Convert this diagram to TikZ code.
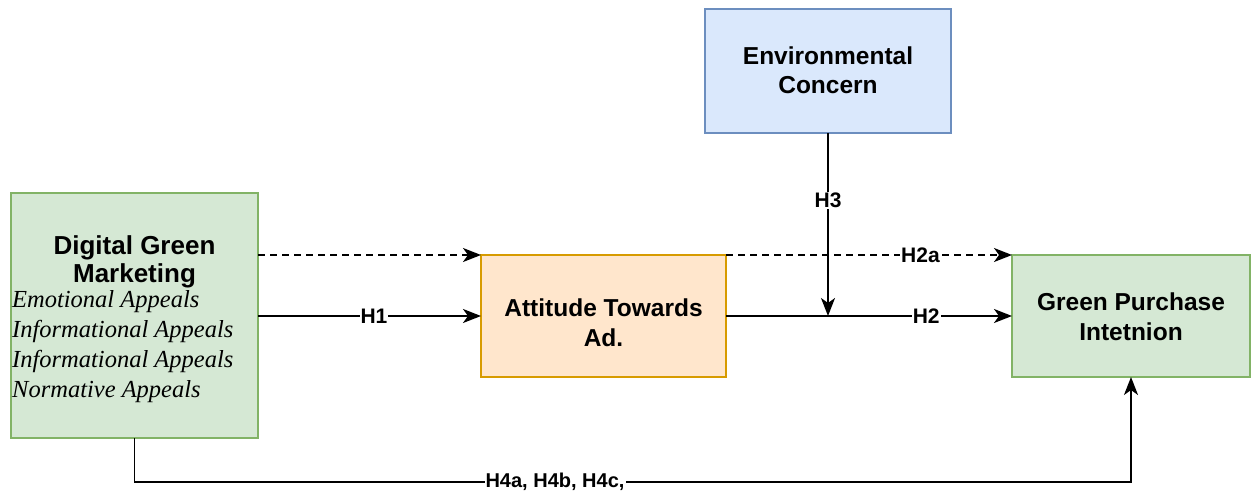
\documentclass[tikz,border=0pt]{standalone}
\usepackage{fontspec}
\setmainfont{Liberation Serif}
\setsansfont{Liberation Sans}
\usetikzlibrary{arrows.meta,calc}
\definecolor{envfill}{HTML}{DAE8FC}\definecolor{envdraw}{HTML}{6C8EBF}
\definecolor{attfill}{HTML}{FFE6CC}\definecolor{attdraw}{HTML}{D79B00}
\definecolor{grnfill}{HTML}{D5E8D4}\definecolor{grndraw}{HTML}{82B366}
\tikzset{
  box/.style={draw, line width=1.5pt, minimum width=#1, inner sep=0pt, outer sep=0pt},
  boxtext/.style={font=\sffamily\bfseries\fontsize{24.5}{29.5}\selectfont, align=center, inner sep=0pt},
  conn/.style={line width=1.8pt, -{Stealth[length=18pt,width=14pt,inset=5pt]}},
  dashconn/.style={conn, dash pattern=on 7pt off 5pt},
  lbl/.style={font=\sffamily\bfseries\fontsize{21}{24}\selectfont, fill=white, inner sep=1pt}
}
\begin{document}
\begin{tikzpicture}[x=1pt,y=1pt]
\useasboundingbox (0,0) rectangle (1252,-494);
% boxes
\node[box=247pt, minimum height=245pt, fill=grnfill, draw=grndraw] (dgm) at (134.5,-315.5) {};
\node[box=246pt, minimum height=124pt, fill=envfill, draw=envdraw] (env) at (828,-71) {};
\node[box=245pt, minimum height=122pt, fill=attfill, draw=attdraw] (att) at (603.5,-316) {};
\node[box=238pt, minimum height=122pt, fill=grnfill, draw=grndraw] (gpi) at (1131,-316) {};
% texts (base anchor = baseline of last line)
\node[boxtext, font=\sffamily\bfseries\fontsize{26}{28.5}\selectfont, anchor=base] (dgmt) at (134.5,-283) {Digital Green\\Marketing};
\node[font=\itshape\fontsize{24.5}{30}\selectfont, align=left, inner sep=0pt, anchor=base west] (dgma) at (12,-397)
  {Emotional Appeals\\Informational Appeals\\Informational Appeals\\Normative Appeals};
\node[boxtext, anchor=base] (envt) at (828,-94) {Environmental\\Concern};
\node[boxtext, anchor=base] (attt) at (603.5,-346) {Attitude Towards\\Ad.};
\node[boxtext, anchor=base] (gpit) at (1131,-340) {Green Purchase\\Intetnion};
% connectors
\draw[dashconn] (dgm.east |- att.north) -- (att.north west);
\draw[conn] (dgm.east |- att.west) -- node[lbl, pos=0.52] (h1) {H1} (att.west);
\draw[dashconn] (att.north east) -- node[lbl, pos=0.68] (h2a) {H2a} (gpi.north west);
\draw[conn] (att.east) -- node[lbl, pos=0.7] (h2) {H2} (gpi.west);
\draw[conn] (env.south) -- node[lbl, pos=0.37] (h3) {H3} (env.south |- att.east);
\coordinate (c2) at ($(gpi.south)+(0,-105)$);
\draw[conn] (dgm.south) |- node[lbl, font=\sffamily\bfseries\fontsize{20}{24}\selectfont, pos=0.711] (h4) {H4a, H4b, H4c,} (c2) -- (gpi.south);
\end{tikzpicture}
\end{document}
